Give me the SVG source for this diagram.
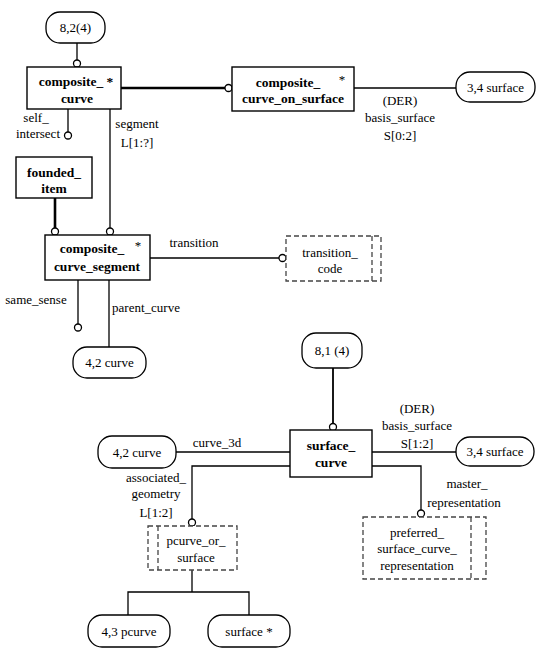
<svg xmlns="http://www.w3.org/2000/svg" width="546" height="652" viewBox="0 0 546 652" font-family="'Liberation Serif', 'Times New Roman', serif">
<style>
.bg{fill:#fff}
.box{fill:#fff;stroke:#000;stroke-width:1.4}
.pill{fill:#fff;stroke:#000;stroke-width:1.3}
.dash{fill:#fff;stroke:#444;stroke-width:1.3;stroke-dasharray:5,3}
.dl{fill:none;stroke:#444;stroke-width:1.3;stroke-dasharray:5,3}
.ln{fill:none;stroke:#000;stroke-width:1.3}
.thick{fill:none;stroke:#000;stroke-width:2.6}
.circ{fill:#fff;stroke:#000;stroke-width:1.3}
text{font-family:'Liberation Serif','Times New Roman',serif;font-size:13px;fill:#000}
.b{font-weight:bold;font-size:13.5px}
.m{text-anchor:middle}
</style>
<rect class="bg" x="0" y="0" width="546" height="652"/>
<g id="connectors">
  <line class="ln" x1="77" y1="43" x2="77" y2="60"/>
  <circle class="circ" cx="77" cy="63.5" r="3.5"/>
  <line class="thick" x1="121" y1="88" x2="225" y2="88"/>
  <circle class="circ" cx="228.5" cy="88" r="3.5"/>
  <line class="ln" x1="354" y1="88" x2="456" y2="88"/>
  <line class="ln" x1="68" y1="109" x2="68" y2="132"/>
  <circle class="circ" cx="68" cy="135.5" r="3.5"/>
  <line class="ln" x1="110" y1="109" x2="110" y2="228"/>
  <circle class="circ" cx="110" cy="231.5" r="3.5"/>
  <line class="thick" x1="55" y1="198" x2="55" y2="228"/>
  <circle class="circ" cx="55" cy="231.5" r="3.5"/>
  <line class="ln" x1="150" y1="258" x2="279" y2="258"/>
  <circle class="circ" cx="282.5" cy="258" r="3.5"/>
  <line class="ln" x1="78" y1="280" x2="78" y2="324"/>
  <circle class="circ" cx="78" cy="327.5" r="3.5"/>
  <line class="ln" x1="109" y1="280" x2="109" y2="347"/>
  <line class="thick" x1="333" y1="368" x2="333" y2="424" style="stroke-width:1.8"/>
  <circle class="circ" cx="333" cy="427" r="3.5"/>
  <line class="ln" x1="176" y1="452" x2="290" y2="452"/>
  <line class="ln" x1="372" y1="452" x2="456" y2="452"/>
  <polyline class="ln" points="290,466 192,466 192,519"/>
  <circle class="circ" cx="192" cy="522.5" r="3.5"/>
  <polyline class="ln" points="372,466 421,466 421,510"/>
  <circle class="circ" cx="421" cy="513.5" r="3.5"/>
  <line class="ln" x1="192" y1="570" x2="192" y2="592"/>
  <polyline class="ln" points="128,615 128,592 249,592 249,615"/>
</g>
<g id="labels">
  <text x="36" y="122" class="m">self_</text>
  <text x="38" y="138" class="m">intersect</text>
  <text x="137" y="128" class="m">segment</text>
  <text x="137" y="147" class="m">L[1:?]</text>
  <text x="400" y="105" class="m">(DER)</text>
  <text x="400" y="122" class="m">basis_surface</text>
  <text x="400" y="140" class="m">S[0:2]</text>
  <text x="194" y="247" class="m">transition</text>
  <text x="36" y="304" class="m">same_sense</text>
  <text x="146" y="312" class="m">parent_curve</text>
  <text x="217" y="447" class="m">curve_3d</text>
  <text x="417" y="413" class="m">(DER)</text>
  <text x="417" y="430" class="m">basis_surface</text>
  <text x="417" y="448" class="m">S[1:2]</text>
  <text x="156" y="482" class="m">associated_</text>
  <text x="156" y="498" class="m">geometry</text>
  <text x="156" y="517" class="m">L[1:2]</text>
  <text x="467" y="488" class="m">master_</text>
  <text x="464" y="507" class="m">representation</text>
</g>
<g id="n_8_2">
  <rect class="pill" x="46" y="12" width="59" height="31" rx="14"/>
  <text x="75.5" y="32" class="m">8,2(4)</text>
</g>
<g id="n_composite_curve">
  <rect class="box" x="27" y="67" width="94" height="42"/>
  <text x="76" y="86" class="b m">composite_ *</text>
  <text x="77" y="103" class="b m">curve</text>
</g>
<g id="n_composite_curve_on_surface">
  <rect class="box" x="232" y="67" width="122" height="44"/>
  <text x="288" y="87" class="b m">composite_</text>
  <text x="342" y="84" class="m">*</text>
  <text x="293" y="103" class="b m">curve_on_surface</text>
</g>
<g id="n_3_4_surface_top">
  <rect class="pill" x="456" y="72" width="79" height="30" rx="14"/>
  <text x="495.5" y="92" class="m">3,4 surface</text>
</g>
<g id="n_founded_item">
  <rect class="box" x="16" y="157" width="76" height="41"/>
  <text x="54" y="177" class="b m">founded_</text>
  <text x="54" y="193" class="b m">item</text>
</g>
<g id="n_composite_curve_segment">
  <rect class="box" x="45" y="235" width="105" height="45"/>
  <text x="92" y="253" class="b m">composite_</text>
  <text x="138" y="250" class="m">*</text>
  <text x="97" y="271" class="b m">curve_segment</text>
</g>
<g id="n_transition_code">
  <rect class="dash" x="286" y="236" width="95" height="45"/>
  <line class="dl" x1="372" y1="236" x2="372" y2="281"/>
  <text x="330" y="257" class="m">transition_</text>
  <text x="330" y="273" class="m">code</text>
</g>
<g id="n_4_2_curve_top">
  <rect class="pill" x="73" y="347" width="73" height="31" rx="14"/>
  <text x="109.5" y="367" class="m">4,2 curve</text>
</g>
<g id="n_8_1">
  <rect class="pill" x="302" y="333" width="60" height="35" rx="14"/>
  <text x="332" y="355" class="m">8,1 (4)</text>
</g>
<g id="n_surface_curve">
  <rect class="box" x="290" y="430" width="82" height="47"/>
  <text x="331" y="450" class="b m">surface_</text>
  <text x="331" y="467" class="b m">curve</text>
</g>
<g id="n_4_2_curve">
  <rect class="pill" x="98" y="436" width="78" height="32" rx="14"/>
  <text x="137" y="457" class="m">4,2 curve</text>
</g>
<g id="n_3_4_surface">
  <rect class="pill" x="456" y="437" width="78" height="29" rx="14"/>
  <text x="495" y="456" class="m">3,4 surface</text>
</g>
<g id="n_pcurve_or_surface">
  <rect class="dash" x="148" y="526" width="89" height="44"/>
  <line class="dl" x1="158" y1="526" x2="158" y2="570"/>
  <text x="196" y="545" class="m">pcurve_or_</text>
  <text x="196" y="562" class="m">surface</text>
</g>
<g id="n_preferred_surface_curve_representation">
  <rect class="dash" x="363" y="517" width="123" height="62"/>
  <line class="dl" x1="471" y1="517" x2="471" y2="579"/>
  <text x="417" y="537" class="m">preferred_</text>
  <text x="417" y="553" class="m">surface_curve_</text>
  <text x="417" y="570" class="m">representation</text>
</g>
<g id="n_4_3_pcurve">
  <rect class="pill" x="88" y="615" width="82" height="32" rx="14"/>
  <text x="129" y="636" class="m">4,3 pcurve</text>
</g>
<g id="n_surface">
  <rect class="pill" x="208" y="615" width="82" height="32" rx="14"/>
  <text x="249" y="636" class="m">surface *</text>
</g>
</svg>
